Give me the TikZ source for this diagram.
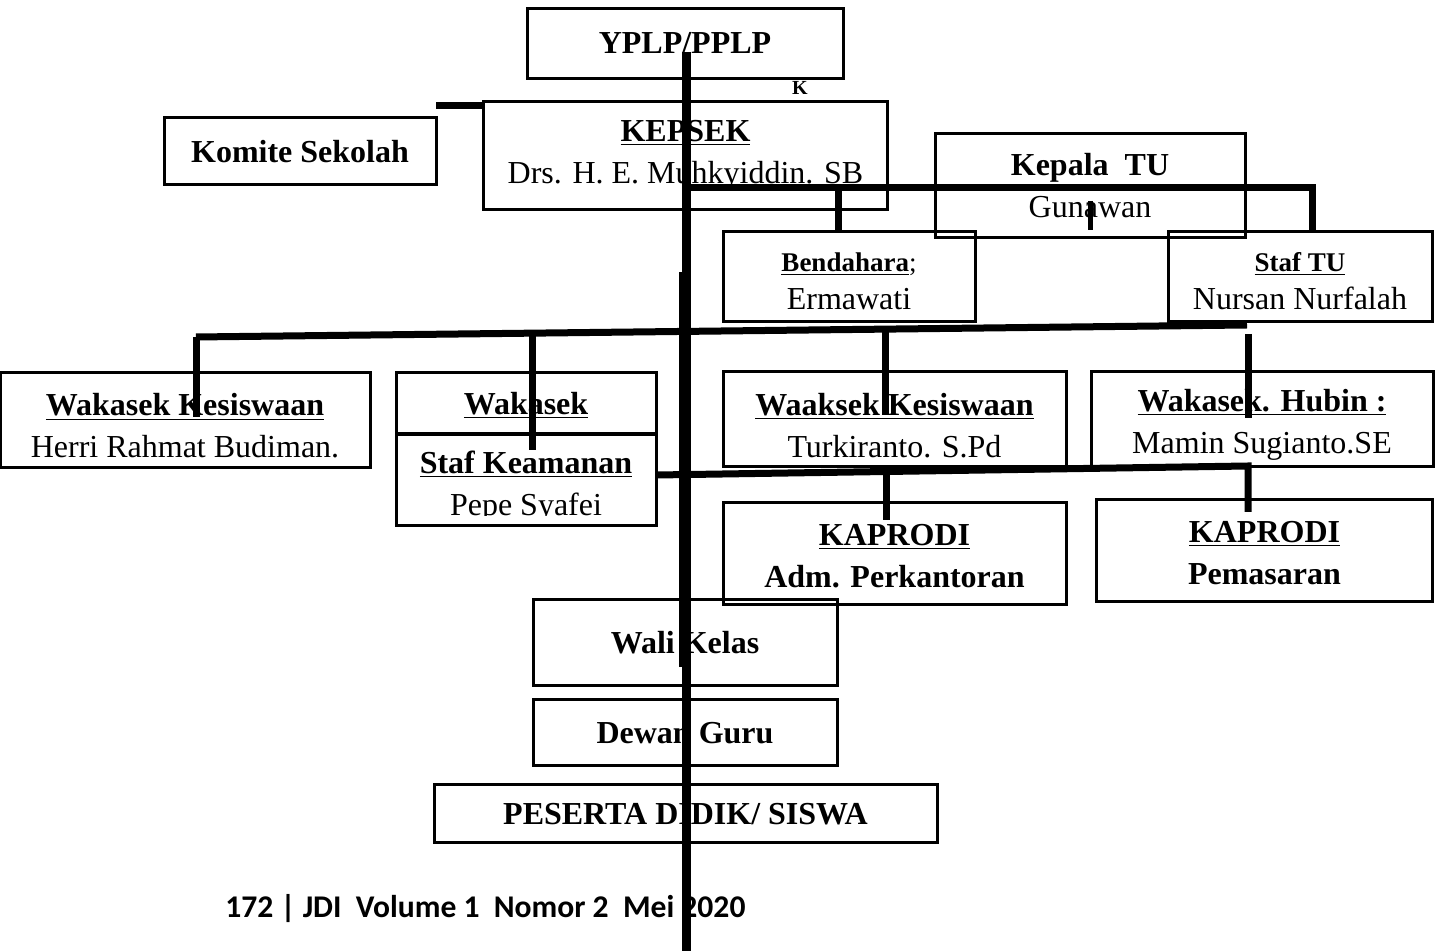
\documentclass[tikz,border=0pt]{standalone}
\usepackage{fontspec}
\setmainfont{Liberation Serif}
\newfontfamily\footfont{Carlito}
\usetikzlibrary{positioning}

\newcommand{\ttl}[1]{\underline{\textbf{#1}}}
\newcommand{\dn}[1]{\rule{0pt}{#1}}

\begin{document}
\begin{tikzpicture}[x=0.5pt,y=-0.5pt,
   orgbox/.style={rectangle,draw=black,line width=1.5pt,inner sep=0pt,
     align=center,font=\fontsize{16}{21}\selectfont},
   tubox/.style={orgbox,font=\fontsize{16}{19}\selectfont},
   link/.style={line width=3.5pt},
   trunk/.style={line width=4.5pt}]

  \useasboundingbox (0,0) rectangle (1437,951);

  % top
  \node[orgbox,minimum width=158pt,minimum height=35pt] (yplp) at (685,43.5)
    {\textbf{YPLP/PPLP}};
  \node[font=\bfseries\fontsize{10}{12}\selectfont] (kmark) at (800,88) {K};
  \node[orgbox,minimum width=202pt,minimum height=54pt] (kepsek) at (685.5,155.5)
    {\ttl{KEPSEK}\\Drs. H. E. Muhkyiddin. SB};
  \node[orgbox,minimum width=136pt,minimum height=33.5pt] (komite) at (300,151.5)
    {\textbf{Komite Sekolah}};
  \node[orgbox,minimum width=155pt,minimum height=52pt] (katu) at (1090,186)
    {\ttl{Kepala\ \ TU}\\Gunawan};
  \node[tubox,minimum width=126pt,minimum height=45pt] (bendahara) at (849,277)
    {{\fontsize{13.5}{15}\selectfont\dn{13.5pt}\ttl{Bendahara};}\\Ermawati};
  \node[tubox,minimum width=132pt,minimum height=45pt] (staftu) at (1300,277)
    {{\fontsize{13.5}{15}\selectfont\dn{13.5pt}\ttl{Staf TU}}\\Nursan Nurfalah};

  % wakasek row
  \node[orgbox,minimum width=185pt,minimum height=47.5pt] (wkesiswaan) at (185,420.5)
    {\dn{16.5pt}\ttl{Wakasek Kesiswaan}\\Herri Rahmat Budiman.};
  \node[orgbox,minimum width=130pt,minimum height=31pt] (wakasek) at (526,403.5)
    {\dn{13pt}\ttl{Wakasek}};
  \node[orgbox,minimum width=130pt,minimum height=46pt] (keamanan) at (526,480)
    {\dn{17.5pt}\ttl{Staf Keamanan}\\Pepe Syafei};
  \node[orgbox,minimum width=171.5pt,minimum height=47.5pt] (waaksek) at (894.5,419.5)
    {\dn{17pt}\ttl{Waaksek Kesiswaan}\\Turkiranto. S.Pd};
  \node[orgbox,minimum width=171pt,minimum height=47.5pt] (hubin) at (1262,419)
    {\dn{17pt}\ttl{Wakasek. Hubin :}\\Mamin Sugianto.SE};

  % kaprodi
  \node[orgbox,minimum width=171.5pt,minimum height=51pt] (kapadm) at (894.5,554)
    {\dn{13pt}\ttl{KAPRODI}\\\textbf{Adm. Perkantoran}};
  \node[orgbox,minimum width=168pt,minimum height=51pt] (kappem) at (1264.5,551)
    {\dn{12.5pt}\ttl{KAPRODI}\\\textbf{Pemasaran}};

  % bottom
  \node[orgbox,minimum width=152pt,minimum height=43pt] (walikelas) at (685,643)
    {\textbf{Wali Kelas}};
  \node[orgbox,minimum width=152pt,minimum height=33pt] (dewanguru) at (685,733)
    {\textbf{Dewan Guru}};
  \node[orgbox,minimum width=251.5pt,minimum height=29pt] (siswa) at (685.5,814)
    {\textbf{PESERTA DIDIK/ SISWA}};

  \node[font=\footfont\bfseries\fontsize{15.8}{18}\selectfont,anchor=base west,
    inner sep=0pt] (foot)
    at (225,918) {172 | JDI\ \ Volume 1\ \ Nomor 2\ \ Mei 2020};

  % cut-off name line
  \fill[white] (399,516) rectangle (653,524);

  % lines
  \coordinate (t0) at (686,52);
  \coordinate (t1) at (686,951);
  \draw[trunk] (t0) -- (t1);
  \draw[line width=2.5pt] (681,272) -- (681,667);

  \coordinate (kk) at (436,106);
  \draw[link] (kk) -- (kk -| kepsek.west);

  \coordinate (tuL) at (686,188);
  \coordinate (tuB) at (838,188);
  \coordinate (tuR) at (1312,188);
  \draw[link] (tuL) -- (tuR) -- (tuR |- staftu.north);
  \draw[link] (tuB) -- (tuB |- bendahara.north);
  \draw[line width=2.5pt] (1090,201) -- (1090,230);

  \coordinate (wA) at (196,337);
  \coordinate (wB) at (1247,325);
  \draw[link] (wA) -- (wB);
  \draw[link] (wA) -- (196,417);
  \draw[link] (532,333) -- (532,450);
  \draw[link] (885,329) -- (885,415);
  \draw[link] (1248,334) -- (1248,418);

  \coordinate (kA) at (657,475);
  \coordinate (kB) at (1248,466);
  \coordinate (kC) at (1248,512);
  \coordinate (kD) at (886,474);
  \coordinate (kE) at (886,520);
  \draw[link] (kA) -- (kB) -- (kC);
  \draw[link] (kD) -- (kE);
\end{tikzpicture}
\end{document}
